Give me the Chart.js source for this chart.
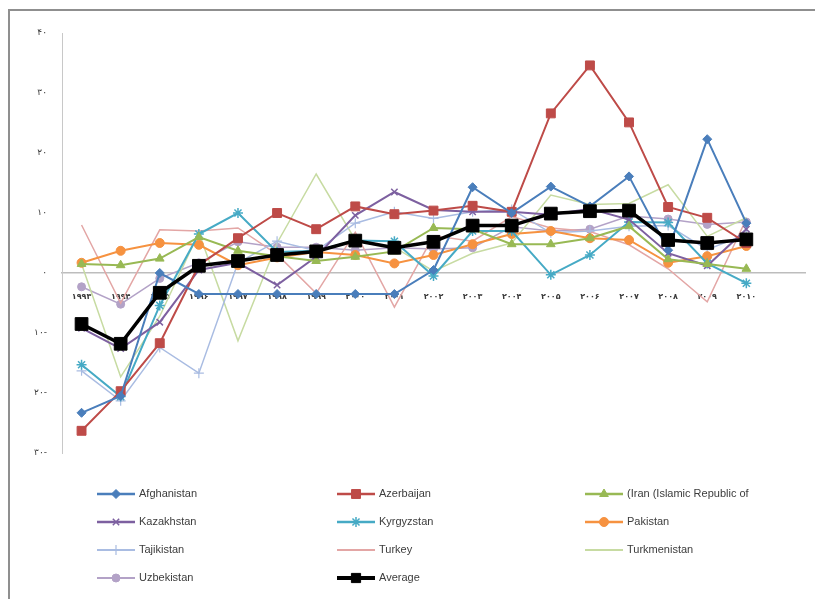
<!DOCTYPE html>
<html>
<head>
<meta charset="utf-8">
<script src="https://cdn.jsdelivr.net/npm/chart.js@4.4.1/dist/chart.umd.min.js"></script>
<style>
  html, body { margin: 0; padding: 0; background: #ffffff; }
  #wrap { width: 815px; height: 599px; position: relative; }
</style>
</head>
<body>
<div id="wrap"><canvas id="growth" width="815" height="599"></canvas></div>
<script>
// Annual real GDP growth (%) by country, 1993–2010
const years = ['۱۹۹۳','۱۹۹۴','۱۹۹۵','۱۹۹۶','۱۹۹۷','۱۹۹۸','۱۹۹۹','۲۰۰۰','۲۰۰۱',
               '۲۰۰۲','۲۰۰۳','۲۰۰۴','۲۰۰۵','۲۰۰۶','۲۰۰۷','۲۰۰۸','۲۰۰۹','۲۰۱۰'];

const afghanistan  = [-23.3, -20.5, 0.0, -3.5, -3.5, -3.5, -3.5, -3.5, -3.5, 0.5, 14.3, 10.0, 14.4, 11.1, 16.1, 3.8, 22.3, 8.3];
const azerbaijan   = [-26.3, -19.7, -11.7, 1.3, 5.8, 10.0, 7.3, 11.1, 9.8, 10.4, 11.2, 10.2, 26.6, 34.6, 25.1, 11.0, 9.2, 5.0];
const iran         = [1.5, 1.3, 2.4, 6.0, 3.7, 2.8, 2.0, 2.7, 3.6, 7.5, 7.3, 4.8, 4.8, 5.8, 7.8, 2.3, 1.5, 0.7];
const kazakhstan   = [-9.2, -12.6, -8.2, 0.5, 1.7, -2.0, 2.7, 9.6, 13.5, 10.5, 10.2, 10.2, 9.7, 10.7, 8.9, 3.3, 1.2, 7.3];
const kyrgyzstan   = [-15.3, -20.6, -5.4, 6.5, 10.0, 3.5, 3.7, 5.4, 5.3, -0.5, 7.0, 7.0, -0.3, 3.0, 8.5, 8.4, 1.6, -1.7];
const pakistan     = [1.7, 3.7, 5.0, 4.7, 1.3, 2.6, 3.5, 3.0, 1.6, 3.0, 4.8, 6.5, 7.0, 5.8, 5.5, 1.7, 2.8, 4.5];
const tajikistan   = [-16.3, -21.3, -12.4, -16.7, 1.7, 5.3, 3.7, 8.3, 10.2, 9.1, 10.2, 10.6, 6.7, 7.0, 7.8, 7.9, 3.9, 6.5];
const turkey       = [8.0, -5.0, 7.2, 7.0, 7.5, 3.1, -3.4, 6.8, -5.7, 6.2, 5.3, 9.4, 7.5, 6.9, 4.7, 0.7, -4.8, 9.0];
const turkmenistan = [1.5, -17.3, -7.2, 6.7, -11.3, 5.0, 16.5, 5.5, 4.3, 0.3, 3.3, 5.0, 13.0, 11.4, 11.6, 14.7, 6.1, 9.2];
const uzbekistan   = [-2.3, -5.2, -0.9, 1.7, 5.2, 4.3, 4.3, 3.8, 4.2, 4.0, 4.2, 7.7, 7.0, 7.3, 9.5, 9.0, 8.1, 8.5];
const average      = [-8.5, -11.8, -3.3, 1.2, 2.0, 3.0, 3.6, 5.4, 4.2, 5.2, 7.9, 7.9, 9.9, 10.3, 10.4, 5.5, 5.0, 5.6];

// Value axis ticks and their Persian-digit labels
const yTickValues = [-30, -20, -10, 0, 10, 20, 30, 40];
const yTickLabels = ['۳۰-', '۲۰-', '۱۰-', '۰', '۱۰', '۲۰', '۳۰', '۴۰'];

// Category axis leaves one empty slot at the right end
const xLabels = years.concat(['']);

function series(label, data, color, style, radius, width, extra) {
  return Object.assign({
    label: label,
    data: data,
    borderColor: color,
    backgroundColor: color,
    pointBackgroundColor: color,
    pointBorderColor: color,
    pointStyle: style,
    pointRadius: radius,
    pointHoverRadius: radius,
    pointBorderWidth: 1,
    borderWidth: width,
    tension: 0,
    fill: false
  }, extra || {});
}

const datasets = [
  series('Afghanistan', afghanistan, '#4A7EBB', 'rectRot', 4.5, 2),
  series('Azerbaijan', azerbaijan, '#BE4B48', 'rect', 6.3, 2),
  series('(Iran (Islamic Republic of', iran, '#98B954', 'triangle', 5, 2),
  series('Kazakhstan', kazakhstan, '#7D60A0', 'crossRot', 4.5, 2, { pointBorderWidth: 1.5 }),
  series('Kyrgyzstan', kyrgyzstan, '#46AAC5', 'star', 5, 2, { pointBorderWidth: 1.5 }),
  series('Pakistan', pakistan, '#F69240', 'circle', 4.5, 2),
  series('Tajikistan', tajikistan, '#A9BCE2', 'cross', 5, 1.5, { pointBorderWidth: 1.2 }),
  series('Turkey', turkey, '#E3A6A5', 'circle', 0, 1.5),
  series('Turkmenistan', turkmenistan, '#C7DBA2', 'circle', 0, 1.5),
  series('Uzbekistan', uzbekistan, '#B3A2C7', 'circle', 4, 1.5),
  series('Average', average, '#000000', 'rect', 9, 3.5, { order: -1 })
];

// Legend layout: three columns, four rows beneath the plot
const legendColX = [97, 337, 585];
const legendTop = 494;
const legendRowGap = 28;
const legendLineLen = 38;

const framePlugin = {
  id: 'frame',
  beforeDraw(chart) {
    const ctx = chart.ctx;
    ctx.save();
    ctx.fillStyle = '#ffffff';
    ctx.fillRect(0, 0, chart.width, chart.height);
    ctx.strokeStyle = '#8f8f8f';
    ctx.lineWidth = 2;
    ctx.beginPath();
    ctx.moveTo(9, chart.height + 2);
    ctx.lineTo(9, 10);
    ctx.lineTo(chart.width + 2, 10);
    ctx.stroke();
    ctx.restore();
  }
};

const gridLegendPlugin = {
  id: 'gridLegend',
  afterDraw(chart) {
    const ctx = chart.ctx;
    chart.data.datasets.forEach((ds, i) => {
      const col = i % 3;
      const row = Math.floor(i / 3);
      const x0 = legendColX[col];
      const y = legendTop + row * legendRowGap;
      ctx.save();
      ctx.strokeStyle = ds.borderColor;
      ctx.lineWidth = ds.borderWidth + 0.5;
      ctx.beginPath();
      ctx.moveTo(x0, y);
      ctx.lineTo(x0 + legendLineLen, y);
      ctx.stroke();
      if (ds.pointRadius > 0) {
        ctx.fillStyle = ds.pointBackgroundColor;
        ctx.strokeStyle = ds.pointBorderColor;
        ctx.lineWidth = ds.pointBorderWidth;
        const r = ds.label === 'Average' ? 6.5 : ds.pointRadius;
        Chart.helpers.drawPoint(ctx, {
          pointStyle: ds.pointStyle,
          radius: r,
          rotation: 0,
          borderWidth: ds.pointBorderWidth
        }, x0 + legendLineLen / 2, y);
      }
      ctx.fillStyle = '#3c3c3c';
      ctx.font = '11px "Liberation Sans", Arial, sans-serif';
      ctx.textAlign = 'left';
      ctx.textBaseline = 'middle';
      ctx.fillText(ds.label, x0 + legendLineLen + 4, y);
      ctx.restore();
    });
  }
};

new Chart(document.getElementById('growth'), {
  type: 'line',
  data: { labels: xLabels, datasets: datasets },
  options: {
    responsive: false,
    animation: false,
    devicePixelRatio: 1,
    layout: { padding: { left: 0, top: 33, right: 8, bottom: 146 } },
    plugins: {
      legend: { display: false },
      tooltip: { enabled: false }
    },
    scales: {
      x: {
        type: 'category',
        position: { y: 0 },
        offset: true,
        grid: { display: false, drawTicks: false },
        border: { display: true, color: '#BDBDBD', width: 1.5 },
        ticks: {
          padding: 19,
          autoSkip: false,
          maxRotation: 0,
          color: '#3a3a3a',
          font: { family: '"DejaVu Sans", sans-serif', size: 8, weight: 'bold' }
        }
      },
      y: {
        min: -30,
        max: 40,
        afterBuildTicks: (scale) => { scale.ticks = yTickValues.map(v => ({ value: v })); },
        afterFit: (scale) => { scale.width = 62; },
        grid: { display: false, drawTicks: false },
        border: { display: true, color: '#C8C8C8', width: 1 },
        ticks: {
          padding: 15,
          color: '#3a3a3a',
          font: { family: '"DejaVu Sans", sans-serif', size: 9 },
          callback: (v) => {
            const k = yTickValues.indexOf(v);
            return k >= 0 ? yTickLabels[k] : '';
          }
        }
      }
    }
  },
  plugins: [framePlugin, gridLegendPlugin]
});
</script>
</body>
</html>
